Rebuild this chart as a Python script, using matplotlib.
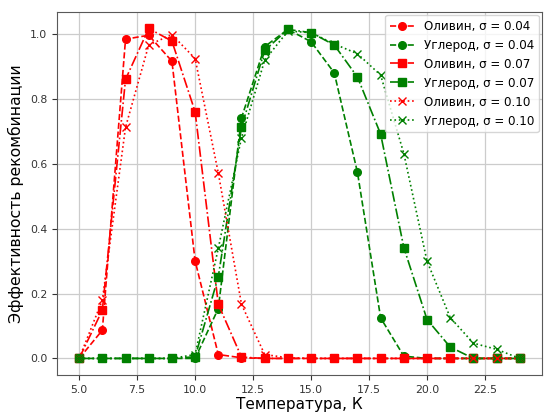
import numpy as np
import matplotlib
matplotlib.use("Agg")
import matplotlib.pyplot as plt

# temperature grid, K
temp = np.arange(5, 25)

# recombination efficiency: olivine grains
olivine_004 = [0.0, 0.087, 0.985, 0.997, 0.917, 0.301, 0.012, 0.002,
               0, 0, 0, 0, 0, 0, 0, 0, 0, 0, 0, 0]
olivine_007 = [0.0, 0.149, 0.861, 1.018, 0.979, 0.761, 0.167, 0.004,
               0, 0, 0, 0, 0, 0, 0, 0, 0, 0, 0, 0]
olivine_010 = [0.0, 0.18, 0.713, 0.967, 0.999, 0.925, 0.572, 0.167,
               0.012, 0.002, 0, 0, 0, 0, 0, 0, 0, 0, 0, 0]

# recombination efficiency: carbon grains
carbon_004 = [0, 0, 0, 0, 0, 0.0, 0.154, 0.742, 0.962, 1.015, 0.977,
              0.881, 0.574, 0.125, 0.007, 0, 0, 0, 0, 0]
carbon_007 = [0, 0, 0, 0, 0, 0.005, 0.252, 0.714, 0.95, 1.015, 1.005,
              0.967, 0.868, 0.692, 0.342, 0.12, 0.035, 0, 0, 0]
carbon_010 = [0, 0, 0, 0, 0, 0.012, 0.34, 0.681, 0.92, 1.01, 1.005,
              0.97, 0.94, 0.874, 0.632, 0.30, 0.126, 0.047, 0.028, 0]

series = [
    (olivine_004, 'r', '--', 'o', 'Оливин, σ = 0.04'),
    (carbon_004, 'g', '--', 'o', 'Углерод, σ = 0.04'),
    (olivine_007, 'r', '-.', 's', 'Оливин, σ = 0.07'),
    (carbon_007, 'g', '-.', 's', 'Углерод, σ = 0.07'),
    (olivine_010, 'r', ':', 'x', 'Оливин, σ = 0.10'),
    (carbon_010, 'g', ':', 'x', 'Углерод, σ = 0.10'),
]

fig = plt.figure(figsize=(5.44, 4.12), dpi=100)
ax = fig.add_axes([0.105, 0.09, 0.891, 0.881])

for vals, col, ls, mk, lab in series:
    ax.plot(temp, vals, color=col, linestyle=ls, marker=mk, label=lab,
            linewidth=1.2, markersize=5.5, markeredgewidth=1.0)

ax.grid(True, color='0.8', linewidth=0.9)
ax.set_axisbelow(True)
for sp in ax.spines.values():
    sp.set_color('0.35')
ax.tick_params(labelsize=7.8, colors='0.2', length=3.5)
ax.set_xticks([5.0, 7.5, 10.0, 12.5, 15.0, 17.5, 20.0, 22.5])
ax.set_yticks([0.0, 0.2, 0.4, 0.6, 0.8, 1.0])
ax.set_xlabel('Температура, К', fontsize=11, labelpad=2)
ax.set_ylabel('Эффективность рекомбинации', fontsize=11.3, labelpad=4)

ax.legend(loc='upper right', fontsize=8.6, handlelength=2.0,
          borderaxespad=0.25, labelspacing=0.5)

fig.savefig('out.png', dpi=100)
